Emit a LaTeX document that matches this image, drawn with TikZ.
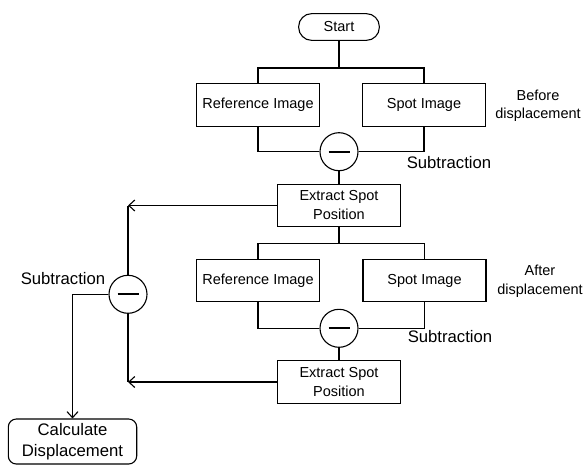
\documentclass[tikz,border=0pt]{standalone}
\usepackage{fontspec}
\setmainfont{Liberation Sans}
\usetikzlibrary{arrows.meta}

\begin{document}
\begin{tikzpicture}[x=1pt,y=-1pt,line width=1.1pt,
    box/.style={draw,minimum width=123pt,minimum height=42.5pt,align=center,inner sep=1pt,
        font=\fontsize{14.5}{19}\selectfont},
    roundbox/.style={box,rounded corners=#1},
    minus/.style={draw,circle,minimum size=38pt,inner sep=0pt,
        path picture={\draw[line width=2pt] ([xshift=-10.5pt]path picture bounding box.center) -- ([xshift=10.5pt]path picture bounding box.center);}},
    lbl/.style={align=center,inner sep=0pt,font=\fontsize{14.5}{18.5}\selectfont},
    biglbl/.style={align=center,inner sep=0pt,font=\fontsize{16.7}{19.5}\selectfont},
    arr/.style={-{Straight Barb[length=6pt,width=11pt]}}]
        \useasboundingbox (0,0) rectangle (585,465);
        \node[roundbox=13pt,minimum width=80.7pt,minimum height=26.7pt] (start) at (339,27) {Start};
        \node[box] (ref1) at (258,105) {Reference Image};
        \node[box] (spot1) at (424,105) {Spot Image};
        \node[minus] (minus1) at (339,151.7) {};
        \node[box] (extract1) at (339,205.5) {Extract Spot\\Position};
        \node[box] (ref2) at (258,280.5) {Reference Image};
        \node[box] (spot2) at (424.5,280.5) {Spot Image};
        \node[minus] (minus2) at (339,328.3) {};
        \node[box] (extract2) at (339,382) {Extract Spot\\Position};
        \node[minus] (minus3) at (128,294.3) {};
        \node[roundbox=8pt,minimum width=128.4pt,minimum height=45pt,
            font=\fontsize{16.7}{20.5}\selectfont] (calc) at (72.5,441.5) {Calculate\\Displacement};
        \node[lbl] (before) at (538,106) {Before\\displacement};
        \node[lbl] (after) at (540,281.5) {After\\displacement};
        \node[biglbl] (sub1) at (449,162.7) {Subtraction};
        \node[biglbl] (sub2) at (450,337) {Subtraction};
        \node[biglbl] (sub3) at (63,279) {Subtraction};
        \coordinate (split1) at (339,68);
        \coordinate (split2) at (339,243.3);
        \coordinate (j1) at (minus3 |- extract1);
        \coordinate (j2) at (minus3 |- extract2);
        \draw (start) -- (split1);
        \draw (ref1.north) |- (split1) -| (spot1.north);
        \draw (ref1.south) |- (minus1.west);
        \draw (spot1.south) |- (minus1.east);
        \draw (minus1) -- (extract1);
        \draw (extract1) -- (split2);
        \draw (ref2.north) |- (split2) -| (spot2.north);
        \draw (ref2.south) |- (minus2.west);
        \draw (spot2.south) |- (minus2.east);
        \draw (minus2) -- (extract2);
        \draw[arr] (extract1.west) -- (j1);
        \draw[arr] (extract2.west) -- (j2);
        \draw (j1) -- (minus3) -- (j2);
        \draw[arr] (minus3.west) -| (calc.north);
\end{tikzpicture}
\end{document}
